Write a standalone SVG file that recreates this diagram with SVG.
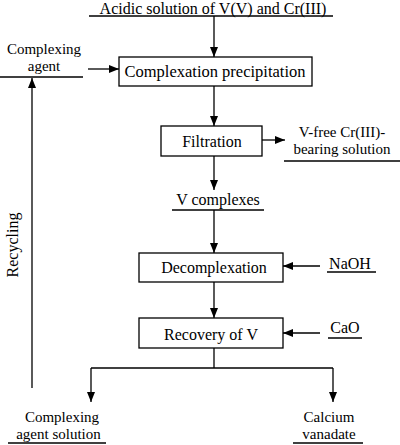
<svg xmlns="http://www.w3.org/2000/svg" width="400" height="445" viewBox="0 0 400 445">
<defs>
<marker id="ah" viewBox="0 0 10 8" refX="10" refY="4" markerWidth="10" markerHeight="8" markerUnits="userSpaceOnUse" orient="auto">
<path d="M0,0 L10,4 L0,8 Z" fill="#000"/>
</marker>
<style>
text{font-family:"Liberation Serif","Times New Roman",serif;font-size:16px;fill:#000;text-anchor:middle}
text.two{font-size:15px}
.box{fill:#fff;stroke:#000;stroke-width:1.3}
.ln{stroke:#000;stroke-width:1.3;fill:none}
.ar{stroke:#000;stroke-width:1.3;fill:none;marker-end:url(#ah)}
</style>
</defs>
<rect width="400" height="445" fill="#fff"/>
<g id="feed">
<text x="213" y="14">Acidic solution of V(V) and Cr(III)</text>
<line class="ln" x1="89" y1="16" x2="333" y2="16"/>
</g>
<g id="complexing-agent">
<text class="two" x="44" y="54">Complexing</text>
<text class="two" x="44" y="71">agent</text>
<line class="ln" x1="0" y1="77" x2="83" y2="77"/>
</g>
<g id="complexation">
<rect class="box" x="119" y="57" width="193" height="29"/>
<text x="215" y="77" style="font-size:16.5px">Complexation precipitation</text>
</g>
<g id="filtration">
<rect class="box" x="161" y="126" width="101" height="30"/>
<text x="212" y="147">Filtration</text>
</g>
<g id="cr-solution">
<text class="two" x="342" y="137">V-free Cr(III)-</text>
<text class="two" x="342" y="154">bearing solution</text>
<line class="ln" x1="284" y1="161" x2="400" y2="161"/>
</g>
<g id="v-complexes">
<text x="218" y="205">V complexes</text>
<line class="ln" x1="172" y1="210" x2="264" y2="210"/>
</g>
<g id="decomplexation">
<rect class="box" x="139" y="253" width="144" height="29"/>
<text x="214" y="273">Decomplexation</text>
</g>
<g id="naoh">
<text x="350" y="269">NaOH</text>
<line class="ln" x1="327" y1="272" x2="376" y2="272"/>
</g>
<g id="recovery">
<rect class="box" x="139" y="318" width="144" height="30"/>
<text x="211" y="340">Recovery of V</text>
</g>
<g id="cao">
<text x="345" y="333">CaO</text>
<line class="ln" x1="328" y1="338" x2="362" y2="338"/>
</g>
<g id="agent-solution">
<text class="two" x="62" y="422">Complexing</text>
<text class="two" x="58.5" y="439">agent solution</text>
<line class="ln" x1="8" y1="443" x2="106" y2="443"/>
</g>
<g id="calcium-vanadate">
<text class="two" x="329" y="422">Calcium</text>
<text class="two" x="329" y="439">vanadate</text>
<line class="ln" x1="293" y1="443" x2="363" y2="443"/>
</g>
<g id="recycling-label">
<text transform="translate(18,245) rotate(-90)">Recycling</text>
</g>
<g id="connectors">
<line class="ar" x1="214" y1="16" x2="214" y2="57"/>
<line class="ar" x1="88" y1="69" x2="119" y2="69"/>
<line class="ar" x1="214" y1="86" x2="214" y2="126"/>
<line class="ar" x1="262" y1="140" x2="285" y2="140"/>
<line class="ar" x1="214" y1="156" x2="214" y2="190"/>
<line class="ar" x1="214" y1="210" x2="214" y2="253"/>
<line class="ar" x1="214" y1="282" x2="214" y2="318"/>
<line class="ar" x1="320" y1="266" x2="283" y2="266"/>
<line class="ar" x1="320" y1="333" x2="283" y2="333"/>
<line class="ln" x1="214" y1="348" x2="214" y2="368"/>
<line class="ln" x1="91" y1="368" x2="333" y2="368"/>
<line class="ar" x1="91" y1="368" x2="91" y2="402"/>
<line class="ar" x1="333" y1="368" x2="333" y2="402"/>
<line class="ar" x1="32" y1="388" x2="32" y2="78"/>
</g>
</svg>
